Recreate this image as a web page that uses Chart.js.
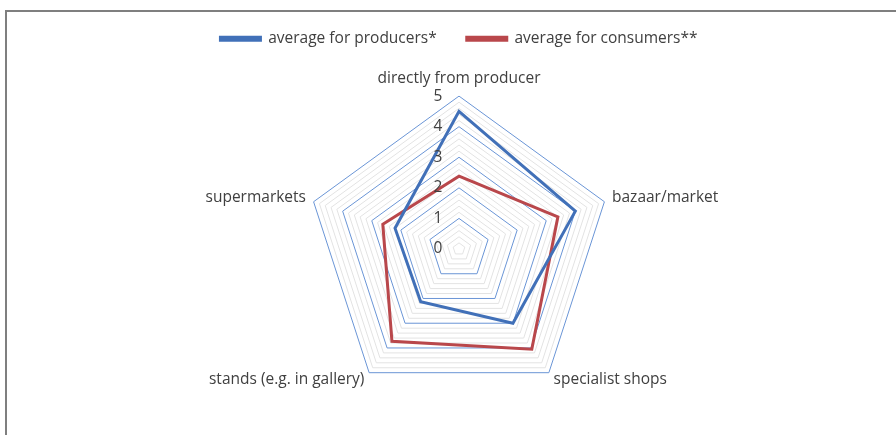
<!DOCTYPE html>
<html>
<head>
<meta charset="utf-8">
<script src="https://cdn.jsdelivr.net/npm/chart.js@4"></script>
<style>
    html, body { margin: 0; padding: 0; background: #fff; overflow: hidden; }
    #frame {
        position: absolute; left: 5px; top: 10px; width: 1000px; height: 500px;
        border-top: 2px solid #7f7f7f; border-left: 2px solid #7f7f7f;
    }
    #wrap { position: absolute; left: 0; top: 0; width: 896px; height: 435px; }
</style>
</head>
<body>
<div id="frame"></div>
<div id="wrap"><canvas id="radarChart"></canvas></div>
<script>
const categories = ['directly from producer', 'bazaar/market', 'specialist shops', 'stands (e.g. in gallery)', 'supermarkets'];
const producers = [4.5, 4.0, 3.0, 2.13, 2.2];
const consumers = [2.38, 3.4, 4.05, 3.73, 2.62];
const tickValues = [0, 1, 2, 3, 4, 5];
const tickLabels = ['0', '1', '2', '3', '4', '5'];

const textColor = '#404040';
const fontFamily = "'Open Sans', sans-serif";
const fontSize = 15.5;

// tick labels left of the vertical axis, category labels nudged to sit like the original
const labelPlugin = {
    id: 'customLabels',
    afterDatasetsDraw(chart) {
        const s = chart.scales.r;
        const ctx = chart.ctx;
        ctx.save();
        ctx.font = fontSize + 'px ' + fontFamily;
        ctx.fillStyle = textColor;
        ctx.textAlign = 'center';
        ctx.textBaseline = 'middle';
        tickValues.forEach((v, i) => {
            const y = s.yCenter - s.getDistanceFromCenterForValue(v);
            ctx.fillText(tickLabels[i], s.xCenter - 21, y);
        });
        categories.forEach((label, i) => {
            const box = s.getPointLabelPosition(i);
            const h = box.bottom - box.top;
            let y = (box.top + box.bottom) / 2;
            if (i === 1 || i === 4) y += h / 2 - 2;
            if (i === 2 || i === 3) y -= 9;
            ctx.fillText(label, (box.left + box.right) / 2, y);
        });
        ctx.restore();
    }
};

const isMajor = v => Math.abs(v - Math.round(v)) < 1e-6;

new Chart(document.getElementById('radarChart'), {
    type: 'radar',
    data: {
        labels: categories,
        datasets: [
            {
                label: 'average for producers*',
                data: producers,
                borderColor: '#4170B8',
                backgroundColor: '#4170B8',
                borderWidth: 3,
                pointRadius: 0,
                fill: false,
                borderJoinStyle: 'miter'
            },
            {
                label: 'average for consumers**',
                data: consumers,
                borderColor: '#B9474B',
                backgroundColor: '#B9474B',
                borderWidth: 3,
                pointRadius: 0,
                fill: false,
                borderJoinStyle: 'miter'
            }
        ]
    },
    options: {
        responsive: true,
        maintainAspectRatio: false,
        animation: false,
        layout: { padding: { top: 1, bottom: 19, left: 22, right: 0 } },
        plugins: {
            legend: {
                position: 'top',
                labels: {
                    boxWidth: 40,
                    boxHeight: 3,
                    padding: 30,
                    color: textColor,
                    font: { family: fontFamily, size: fontSize }
                }
            },
            tooltip: { enabled: false }
        },
        scales: {
            r: {
                min: 0,
                max: 5,
                angleLines: { display: false },
                grid: {
                    color: c => isMajor(c.tick.value) ? '#6A95D6' : '#E3E3E3',
                    lineWidth: 1
                },
                ticks: { stepSize: 0.2, display: false },
                pointLabels: {
                    color: 'rgba(0,0,0,0)',
                    padding: 8,
                    font: { family: fontFamily, size: fontSize }
                }
            }
        }
    },
    plugins: [labelPlugin]
});
</script>
</body>
</html>
